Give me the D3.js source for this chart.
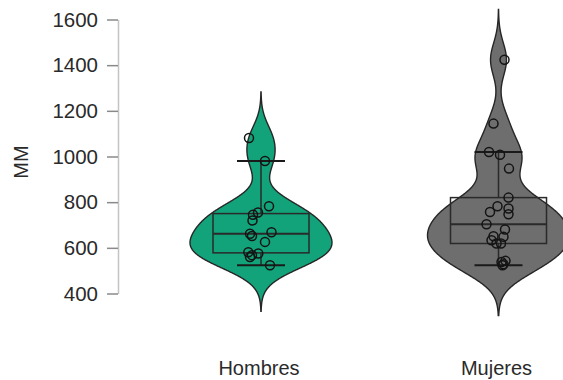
<!DOCTYPE html>
<html>
<head>
<meta charset="utf-8">
<script src="https://cdn.jsdelivr.net/npm/d3@7"></script>
<style>
  html, body { margin: 0; padding: 0; background: #fff; }
  svg { display: block; font-family: "Liberation Sans", Arial, Helvetica, sans-serif; }
</style>
</head>
<body>
<svg id="chart" width="563" height="380"></svg>
<script>
// Groups and their measurements (MM)
const groups = ["Hombres", "Mujeres"];
const hombres = [1081, 980, 782, 755, 745, 720, 668, 662, 652, 626, 581, 575, 568, 560, 524];
const mujeres = [1424, 1144, 1020, 1008, 947, 820, 782, 772, 757, 747, 703, 680, 651, 648, 633, 619, 619, 543, 538, 528, 524];
// Horizontal spread of the points around the group centre (px)
const jitterHombres = [-12, 4, 8, -3, -8, -8.5, 10.5, -11, -9, 4, -12.7, -2.7, -9, -11, 9];
const jitterMujeres = [6, -5, -9.5, 1.5, 10.5, 10, -1, 10, -8.5, 10, -12, 6.5, -5, 5, -7, -2, 2.5, 7, 3, 5, 4];
const yTicks = [400, 600, 800, 1000, 1200, 1400, 1600];
const yLabel = "MM";
const fills = ["#12a37a", "#6e6e6e"];

const series = [
  { name: groups[0], values: hombres, jitter: jitterHombres, fill: fills[0] },
  { name: groups[1], values: mujeres, jitter: jitterMujeres, fill: fills[1] }
];

const svg = d3.select("#chart");

const y = d3.scaleLinear().domain([400, 1600]).range([293.5, 19.5]);
const x = d3.scalePoint().domain(groups).range([261, 498.5]);

const violinHalf = 71;   // widest half-width of a violin
const boxHalf = 48;      // half-width of the box
const capHalf = 24;      // half-width of the whisker caps

// Gaussian kernel density with R's nrd0 bandwidth, extended 3 bandwidths past the data
function density(values) {
  const v = values.slice().sort(d3.ascending);
  const n = v.length;
  const sd = d3.deviation(v);
  const iqr = d3.quantile(v, 0.75) - d3.quantile(v, 0.25);
  const bw = 0.9 * Math.min(sd, iqr / 1.34) * Math.pow(n, -0.2);
  const lo = v[0] - 3 * bw, hi = v[n - 1] + 3 * bw;
  const pts = [];
  const steps = 512;
  for (let i = 0; i <= steps; i++) {
    const t = lo + (hi - lo) * i / steps;
    let s = 0;
    for (const d of v) {
      const u = (t - d) / bw;
      s += Math.exp(-0.5 * u * u);
    }
    pts.push([t, s / (n * bw * Math.sqrt(2 * Math.PI))]);
  }
  return pts;
}

function boxStats(values) {
  const v = values.slice().sort(d3.ascending);
  const q1 = d3.quantile(v, 0.25), med = d3.quantile(v, 0.5), q3 = d3.quantile(v, 0.75);
  const iqr = q3 - q1;
  const lo = d3.min(v.filter(d => d >= q1 - 1.5 * iqr));
  const hi = d3.max(v.filter(d => d <= q3 + 1.5 * iqr));
  return { q1, med, q3, lo, hi };
}

// y axis
const yAxis = svg.append("g")
  .attr("transform", "translate(118,0)")
  .call(d3.axisLeft(y).tickValues(yTicks).tickFormat(d3.format("d"))
    .tickSize(11).tickPadding(9).tickSizeOuter(0));
yAxis.select(".domain").attr("stroke", "#c4c4c4").attr("stroke-width", 1.5);
yAxis.selectAll(".tick line").attr("stroke", "#8a8a8a").attr("stroke-width", 1.5);
yAxis.selectAll(".tick text")
  .attr("fill", "#2a2a2a")
  .style("font-size", "20.5px")
  .style("font-family", "'Liberation Sans', Arial, sans-serif");

svg.append("text")
  .attr("transform", "translate(28,162) rotate(-90)")
  .attr("text-anchor", "middle")
  .attr("fill", "#2a2a2a")
  .style("font-size", "20px")
  .text(yLabel);

// group labels
svg.selectAll(".glabel")
  .data(groups)
  .join("text")
  .attr("class", "glabel")
  .attr("x", d => x(d) - 2)
  .attr("y", 375)
  .attr("text-anchor", "middle")
  .attr("fill", "#2a2a2a")
  .style("font-size", "20px")
  .text(d => d);

series.forEach(s => {
  const cx = x(s.name);
  const dens = density(s.values);
  const maxD = d3.max(dens, d => d[1]);
  const w = d3.scaleLinear().domain([0, maxD]).range([0, violinHalf]);

  const area = d3.area()
    .curve(d3.curveBasis)
    .y(d => y(d[0]))
    .x0(d => cx - w(d[1]))
    .x1(d => cx + w(d[1]));

  const g = svg.append("g");

  g.append("path")
    .datum(dens)
    .attr("d", area)
    .attr("fill", s.fill)
    .attr("stroke", "#262626")
    .attr("stroke-width", 1.4);

  const st = boxStats(s.values);
  const line = "#2a2a2a";

  // whisker and caps
  g.append("line").attr("x1", cx).attr("x2", cx).attr("y1", y(st.q3)).attr("y2", y(st.hi))
    .attr("stroke", line).attr("stroke-width", 1.5);
  g.append("line").attr("x1", cx).attr("x2", cx).attr("y1", y(st.q1)).attr("y2", y(st.lo))
    .attr("stroke", line).attr("stroke-width", 1.5);
  [st.lo, st.hi].forEach(v => {
    g.append("line").attr("x1", cx - capHalf).attr("x2", cx + capHalf)
      .attr("y1", y(v)).attr("y2", y(v))
      .attr("stroke", "#1a1a1a").attr("stroke-width", 2);
  });

  // box
  g.append("rect")
    .attr("x", cx - boxHalf).attr("width", boxHalf * 2)
    .attr("y", y(st.q3)).attr("height", y(st.q1) - y(st.q3))
    .attr("fill", "none").attr("stroke", line).attr("stroke-width", 1.5);
  g.append("line").attr("x1", cx - boxHalf).attr("x2", cx + boxHalf)
    .attr("y1", y(st.med)).attr("y2", y(st.med))
    .attr("stroke", line).attr("stroke-width", 2);

  // observations
  g.selectAll("circle")
    .data(s.values.map((v, i) => ({ v, j: s.jitter[i] })))
    .join("circle")
    .attr("cx", d => cx + d.j)
    .attr("cy", d => y(d.v))
    .attr("r", 4.5)
    .attr("fill", "none")
    .attr("stroke", "#141414")
    .attr("stroke-width", 1.5);
});
</script>
</body>
</html>
